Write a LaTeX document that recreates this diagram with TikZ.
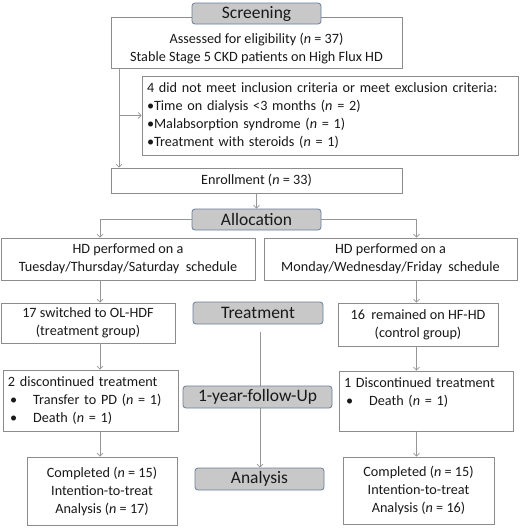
\documentclass[tikz,border=0pt]{standalone}
\usepackage{fontspec}
\setmainfont{Carlito}
\usetikzlibrary{arrows.meta,backgrounds}
\definecolor{linegray}{RGB}{150,150,150}
\definecolor{boxgray}{RGB}{140,140,140}
\definecolor{headfill}{RGB}{200,200,200}
\definecolor{headline}{RGB}{105,125,155}
\definecolor{textgray}{RGB}{25,25,25}
\newcommand{\nvar}{\textit{n}}
\tikzset{
  box/.style={draw=boxgray, fill=white, line width=0.8pt, align=center, inner sep=2pt,
    text=textgray, font=\fontsize{14.2}{18}\selectfont},
  listbox/.style={box, align=left, inner sep=5pt, text width=#1},
  head/.style={draw=headline, fill=headfill, rounded corners=3pt, line width=0.8pt,
    minimum width=#1, minimum height=21pt, inner sep=0pt, text=textgray,
    font=\fontsize{17.5}{18}\selectfont},
  arrow/.style={-{Straight Barb[length=3pt,width=6pt]}, draw=linegray, line width=0.7pt}
}

\begin{document}
\begin{tikzpicture}[x=1pt, y=-1pt]
  \useasboundingbox (0,0) rectangle (520,528);
  \node[box, minimum width=291pt, minimum height=51pt] (assess) at (256.5,42.5)
    {\rule{0pt}{22pt}Assessed for eligibility (\nvar{} = 37)\\Stable Stage 5 CKD patients on High Flux HD};
  \node[head=129pt] (screen) at (256.5,13.5) {Screening};
  \node[listbox=366pt, minimum height=79pt] (excl) at (330,115.5)
    {4 did not meet inclusion criteria or meet exclusion criteria:\\
     \textbullet Time on dialysis <3 months (\nvar{} = 2)\\
     \textbullet Malabsorption syndrome (\nvar{} = 1)\\
     \textbullet Treatment with steroids (\nvar{} = 1)};
  \node[box, minimum width=291pt, minimum height=25pt] (enroll) at (256.5,180.5)
    {Enrollment (\nvar{} = 33)};
  \node[head=129pt] (alloc) at (256.5,219.5) {Allocation};
  \node[box, minimum width=254pt, minimum height=42pt] (hdleft) at (128,259)
    {HD performed on a\\Tuesday/Thursday/Saturday\ \ schedule};
  \node[box, minimum width=253pt, minimum height=42pt] (hdright) at (390.5,259)
    {HD performed on a\\Monday/Wednesday/Friday\ \ schedule};
  \node[box, minimum width=174pt, minimum height=40pt] (grpleft) at (88,323)
    {17 switched to OL-HDF\\(treatment group)};
  \node[head=130pt, minimum height=22pt] (treat) at (258,313) {Treatment};
  \node[box, minimum width=160pt, minimum height=43pt] (grpright) at (418,324.5)
    {16\ \ remained on HF-HD\\(control group)};
  \node[listbox=165pt, minimum height=61pt] (discleft) at (90.5,400.5)
    {2 discontinued treatment\\
     \hspace*{2pt}\textbullet\hspace{16pt}Transfer to PD (\nvar{} = 1)\\
     \hspace*{2pt}\textbullet\hspace{16pt}Death (\nvar{} = 1)};
  \node[head=149pt, minimum height=22pt] (follow) at (257.5,397) {1-year-follow-Up};
  \node[listbox=164pt, minimum height=60pt] (discright) at (426,401)
    {1 Discontinued treatment\\
     \hspace*{2pt}\textbullet\hspace{16pt}Death (\nvar{} = 1)\\
     \mbox{}};
  \node[box, minimum width=150pt, minimum height=68pt] (compleft) at (102,491)
    {Completed (\nvar{} = 15)\\Intention-to-treat\\Analysis (\nvar{} = 17)};
  \node[head=129pt, minimum height=22pt] (analysis) at (259.5,479) {Analysis};
  \node[box, minimum width=151pt, minimum height=67pt] (compright) at (418.5,490.5)
    {Completed (\nvar{} = 15)\\Intention-to-treat\\Analysis (\nvar{} = 16)};
  \coordinate (trunk) at (119,68);
  \coordinate (lcol) at (100,0);
  \coordinate (rcol) at (416.5,0);
  \coordinate (mid) at (260,332);
  \draw[arrow] (trunk) -- (trunk |- enroll.north);
  \draw[arrow] (trunk |- excl.west) -- (excl.west);
  \draw[arrow] (enroll.south) -- (alloc.north);
  \draw[arrow] (alloc.west) -| (lcol |- hdleft.north);
  \draw[arrow] (alloc.east) -| (rcol |- hdright.north);
  \draw[arrow] (lcol |- hdleft.south) -- (lcol |- grpleft.north);
  \draw[arrow] (lcol |- grpleft.south) -- (lcol |- discleft.north);
  \draw[arrow] (lcol |- discleft.south) -- (lcol |- compleft.north);
  \draw[arrow] (rcol |- hdright.south) -- (rcol |- grpright.north);
  \draw[arrow] (rcol |- grpright.south) -- (rcol |- discright.north);
  \draw[arrow] (rcol |- discright.south) -- (rcol |- compright.north);
  \begin{pgfonlayer}{background}
    \draw[arrow] (mid) -- (mid |- analysis.north);
  \end{pgfonlayer}
\end{tikzpicture}
\end{document}
